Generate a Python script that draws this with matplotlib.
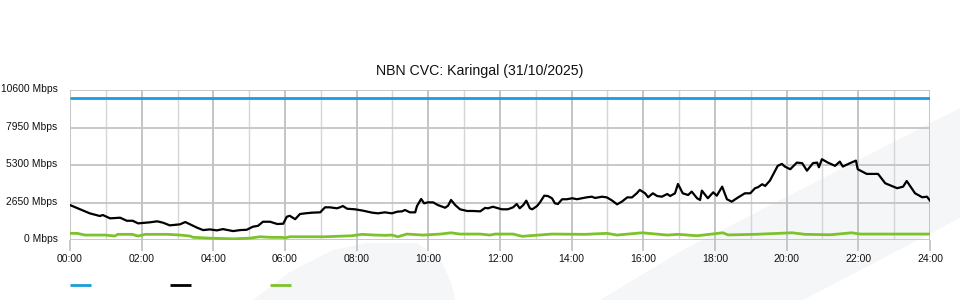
import matplotlib
matplotlib.use("Agg")
import matplotlib.pyplot as plt
import matplotlib.transforms as mtransforms
from matplotlib.patches import Polygon
from matplotlib.lines import Line2D

plt.rcParams['font.family'] = ['Liberation Sans', 'DejaVu Sans']

title = "NBN CVC: Karingal (31/10/2025)"
series_names = ["Capacity", "Download", "Upload"]
colors = ["#1a9ddb", "#000000", "#7dc22b"]

y_ticks = [0, 2650, 5300, 7950, 10600]
y_labels = ["0 Mbps", "2650 Mbps", "5300 Mbps", "7950 Mbps", "10600 Mbps"]
x_ticks_h = list(range(0, 25, 2))
x_labels = ["%02d:00" % h for h in x_ticks_h]

cap_min = [0, 1440]
cap_val = [10000, 10000]

black_min = [0,17,33,50,55,67,84,95,105,114,134,146,156,167,184,193,201,213,223,234,246,256,273,285,296,306,315,323,335,347,357,363,368,377,385,394,405,419,427,435,447,452,457,464,477,491,506,516,527,539,548,556,561,569,578,581,588,593,599,608,616,628,633,638,645,653,665,675,687,695,700,708,717,723,733,742,748,753,759,764,770,774,782,787,794,800,807,812,817,824,832,841,849,857,866,874,879,891,899,908,916,924,933,941,949,954,963,968,976,983,991,1000,1005,1013,1018,1026,1035,1041,1050,1055,1058,1068,1077,1083,1092,1100,1108,1118,1130,1139,1147,1152,1159,1164,1172,1177,1185,1192,1197,1206,1217,1226,1234,1244,1251,1254,1259,1269,1281,1289,1294,1306,1316,1319,1334,1353,1365,1385,1395,1401,1415,1427,1435,1440]
black_val = [2470,2170,1885,1695,1765,1530,1575,1360,1360,1175,1250,1320,1220,1035,1105,1270,1105,865,700,750,680,770,630,700,725,935,1005,1290,1290,1130,1150,1645,1710,1470,1835,1885,1930,1955,2310,2310,2240,2310,2400,2210,2170,2070,1930,1885,1955,1885,2000,2025,2120,1955,1955,2400,2900,2590,2660,2660,2470,2280,2420,2830,2470,2170,2050,2050,2025,2270,2240,2350,2240,2170,2170,2310,2545,2240,2470,2780,2240,2170,2400,2660,3130,3110,2950,2590,2545,2880,2880,2950,2880,2950,3020,3060,2970,3060,3010,2780,2520,2710,3010,3010,3300,3540,3300,3020,3300,3110,3060,3250,3110,3300,3960,3300,3180,3420,2950,2830,3490,2950,3370,3130,3770,2880,2710,2990,3300,3300,3660,3730,3940,3820,4200,4600,5240,5380,5190,5000,5470,5430,4900,5430,5470,5140,5710,5470,5240,5540,5190,5430,5610,5000,4670,4670,4010,3660,3770,4170,3300,3020,3060,2780]

green_min = [0,12,25,59,75,80,104,114,126,164,184,201,206,239,260,273,301,318,335,355,360,368,427,472,489,511,527,539,549,564,591,620,638,653,687,703,712,742,757,807,862,899,916,958,1000,1018,1050,1093,1102,1147,1209,1231,1273,1309,1323,1440]
green_val = [470,470,350,350,280,400,400,280,400,400,350,280,190,120,100,80,130,230,190,185,150,230,230,300,400,350,330,350,230,420,350,420,510,420,420,350,420,420,260,420,400,470,350,510,350,400,300,510,360,400,510,400,370,510,420,420]

W, H = 960, 300
fig = plt.figure(figsize=(W / 100, H / 100), dpi=100)
fig.patch.set_facecolor("white")

# decorative background shapes (figure pixels -> fraction)
def fp(pts):
    return [(x / W, 1 - y / H) for x, y in pts]

bg = "#f5f6f8"
fig.add_artist(Polygon(fp([(600, 300), (683, 250), (960, 108), (960, 218), (803, 300)]),
                       closed=True, transform=fig.transFigure, facecolor=bg, edgecolor="none", zorder=0))
fig.add_artist(Polygon(fp([(253, 300), (290, 272), (333, 250), (367, 243), (417, 243),
                           (440, 258), (452, 285), (455, 300)]),
                       closed=True, transform=fig.transFigure, facecolor=bg, edgecolor="none", zorder=0))

ax = fig.add_axes([70 / W, 1 - 240 / H, 860 / W, 150 / H])
ax.patch.set_alpha(0)
ax.set_zorder(1)

bh = [m / 60 for m in black_min]
gh = [m / 60 for m in green_min]
ch = [m / 60 for m in cap_min]

ax.plot(ch, cap_val, color=colors[0], lw=2.0, zorder=3, solid_capstyle="butt")
ax.plot(bh, black_val, color=colors[1], lw=1.6, zorder=4, solid_joinstyle="round")
ax.plot(gh, green_val, color=colors[2], lw=2.0, zorder=3)

ax.set_xlim(0, 24)
ax.set_ylim(0, 10600)

ax.set_yticks(y_ticks)
ax.set_yticklabels(y_labels, fontsize=7.4, color="#111111")
ax.set_xticks(x_ticks_h)
ax.set_xticklabels(x_labels, fontsize=7.5, color="#111111")
ax.set_xticks(list(range(1, 24, 2)), minor=True)

ax.tick_params(axis="y", length=0, pad=9)
ax.tick_params(axis="x", which="major", length=8, width=1.2, color="#c0c0c0", pad=2, direction="out")
ax.tick_params(axis="x", which="minor", length=0)

shift = mtransforms.ScaledTranslation(0, 2 / 100, fig.dpi_scale_trans)
for lab in ax.get_yticklabels():
    lab.set_transform(lab.get_transform() + shift)

ax.grid(True, axis="y", color="#c4c4c4", lw=1.3, zorder=1)
ax.grid(True, axis="x", which="major", color="#c4c4c4", lw=1.4, zorder=1)
ax.grid(True, axis="x", which="minor", color="#d6d6d6", lw=1.0, zorder=1)
for s in ax.spines.values():
    s.set_visible(False)
ax.set_axisbelow(True)

fig.text(480 / W, 1 - 71 / H, title, ha="center", va="center", fontsize=10.2, color="#111111")

# legend swatches (no labels in the reference)
for i, c in enumerate(colors):
    x0 = 70 + i * 100
    fig.add_artist(Line2D([x0 / W, (x0 + 21) / W], [1 - 285 / H, 1 - 285 / H],
                          transform=fig.transFigure, color=c, lw=2.0, solid_capstyle="butt"))

fig.savefig("out.png", dpi=100, facecolor="white")
